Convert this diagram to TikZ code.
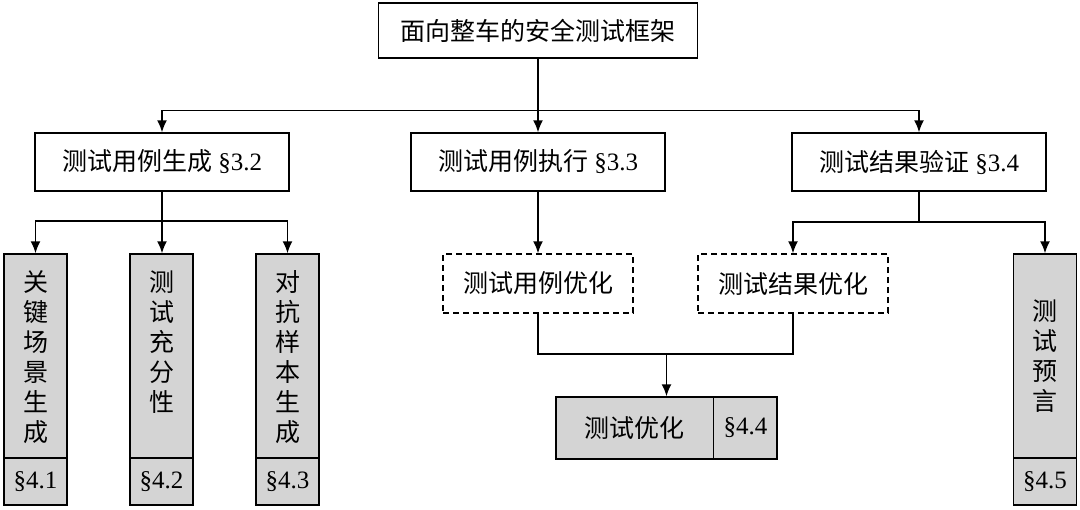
\documentclass[tikz,border=0pt]{standalone}
\usepackage{fontspec}
\setmainfont{Liberation Serif}
\newfontfamily\cjk{Noto Sans CJK SC}
\usetikzlibrary{arrows.meta}
\definecolor{boxgray}{RGB}{212,212,212}
\begin{document}
\begin{tikzpicture}[x=0.5pt,y=-0.5pt,
  box/.style={draw, line width=0.75pt, inner sep=0pt, font=\fontsize{12.5}{15}\selectfont},
  wbox/.style={box, minimum width=127pt, minimum height=29pt},
  dbox/.style={box, dash pattern=on 3pt off 2pt, minimum width=95pt, minimum height=29.5pt},
  gtop/.style={box, fill=boxgray, minimum width=31.5pt, minimum height=102pt},
  gbot/.style={box, fill=boxgray, minimum width=31.5pt, minimum height=23.5pt},
  vtxt/.style={align=center, inner sep=0pt, font=\cjk\fontsize{12.5}{15}\selectfont},
  txt/.style={inner sep=0pt, font=\fontsize{12.5}{15}\selectfont},
  arr/.style={line width=0.75pt, -{Latex[length=6pt,width=5pt]}},
  ln/.style={line width=0.75pt}]
\useasboundingbox (0,0) rectangle (1080,509);
% top
\node[box, minimum width=159.5pt, minimum height=27.5pt] (top) at (538,30.5) {\cjk 面向整车的安全测试框架};
% second level
\node[wbox] (L) at (162,162) {{\cjk 测试用例生成} §3.2};
\node[wbox] (M) at (538,162) {{\cjk 测试用例执行} §3.3};
\node[wbox] (R) at (919,162) {{\cjk 测试结果验证} §3.4};
\draw[arr] (top.south) -- (top.south |- M.north);
\draw[arr] (top.south) -- ++(0,51.5) -| (L.north);
\draw[arr] (top.south) -- ++(0,51.5) -| (R.north);
% gray boxes
\node[gtop] (g1) at (35.5,356) {};
\node[gbot] (g1s) at (35.5,481.5) {§4.1};
\node[gtop] (g2) at (161.5,356) {};
\node[gbot] (g2s) at (161.5,481.5) {§4.2};
\node[gtop] (g3) at (287.5,356) {};
\node[gbot] (g3s) at (287.5,481.5) {§4.3};
\node[gtop] (g4) at (1045,356) {};
\node[gbot] (g4s) at (1045,481.5) {§4.5};
\node[vtxt] (t1) at (35.5,357) {关\\键\\场\\景\\生\\成};
\node[vtxt] (t2) at (161.5,342) {测\\试\\充\\分\\性};
\node[vtxt] (t3) at (287.5,357) {对\\抗\\样\\本\\生\\成};
\node[vtxt] (t4) at (1045,356) {测\\试\\预\\言};
\draw[arr] (L.south) -- ++(0,29) -| (g1.north);
\draw[arr] (L.south) -- (L.south |- g2.north);
\draw[arr] (L.south) -- ++(0,29) -| (g3.north);
% dashed boxes
\node[dbox] (d1) at (538,283.5) {\cjk 测试用例优化};
\node[dbox] (d2) at (793,283.5) {\cjk 测试结果优化};
\draw[arr] (M.south) -- (M.south |- d1.north);
\draw[arr] (R.south) -- ++(0,30) -| (d2.north);
\draw[arr] (R.south) -- ++(0,30) -| (g4.north);
% optimisation box
\node[box, fill=boxgray, minimum width=110.5pt, minimum height=31pt] (opt) at (666.5,428) {};
\draw[ln] (opt.north west) ++(158,0) coordinate (dv) -- (dv |- opt.south);
\node[txt] (optt) at (634,428) {\cjk 测试优化};
\node[txt] (opts) at (745.5,428) {§4.4};
\coordinate (j) at (666.5,354);
\draw[ln] (d1.south) |- (j) -| (d2.south);
\draw[arr] (j) -- (opt.north);
\end{tikzpicture}
\end{document}
